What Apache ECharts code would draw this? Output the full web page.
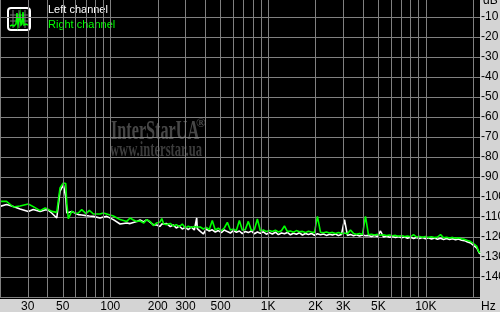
<!DOCTYPE html>
<html>
<head>
<meta charset="utf-8">
<script src="https://cdn.jsdelivr.net/npm/echarts@6/dist/echarts.min.js"></script>
<style>
html,body{margin:0;padding:0;background:#d4d4d4;}
#chart{width:500px;height:312px;}
</style>
</head>
<body>
<div id="chart"></div>
<script>
const freqs = [20,22,24.3,26.8,30.2,32.5,35.9,38.6,40,42.5,45.8,48,50.4,52.2,53,54.2,57,60.6,62.7,65.9,70.2,73.7,78.1,80.1,86.1,90.4,95,97.2,104.6,107.2,115.4,118.2,127.2,133.5,140.1,147.2,154.5,163,170.4,180,187.5,197,206.8,212,218,228,
240,251,262,274,286,289,299,312,326,341,353,356,372,389,406,424,443,463,484,506,528,552,577,603,630,658,687,718,750,784,819,856,894,934,976,1020,1065,1113,1163,1215,1270,1327,1386,1448,1513,1581,1652,1726,1803,1884,1968,2056,2149,2245,2345,2450,2560,2675,2795,2920,3051,3187,3330,3479,3635,3798,3968,4146,4331,4525,4728,4940,5161,5392,5633,5886,6149,6425,6712,7013,7327,7655,7998,8356,8730,9121,9529,9956,10400,10870,11350,11860,12390,12950,13530,14130,14770,15430,16120,16840,17600,18380,19200,19570,20060,20540,21060,21560,22000];

const leftDb = [-104.7,-103.8,-104.7,-106,-107.2,-106.3,-107.2,-106.5,-106.3,-108,-110.5,-97.2,-93.8,-100,-108,-107.8,-107.2,-108.3,-108.8,-109,-109.3,-109.5,-109.7,-110,-110.5,-110,-109.7,-110.5,-111.3,-112,-113.5,-113.8,-113,-113.3,-112.7,-112.2,-111.5,-112.5,-111.3,-112.8,-113.8,-114,-114.7,-113.5,-114.5,-113.3,
-114.8,-114,-115.5,-114.5,-116,-115.4,-115.2,-116.3,-115,-116.5,-110.5,-115.8,-117.2,-118.5,-116,-117,-116.4,-117.5,-116.8,-117.8,-116.5,-117.3,-118,-116.8,-117.6,-117,-118.3,-117.2,-117.8,-117,-118.4,-117.5,-118.2,-117.4,-118.6,-117.8,-118.5,-117.6,-118.8,-118,-118.4,-117.7,-118.9,-118.1,-118.6,-117.9,-119,-118.3,-118.7,-118.2,-119.1,-118.4,-118.9,-118.5,-119.2,-118.6,-119,-118.5,-119.3,-118.8,-111.3,-119.2,-118.7,-119.4,-118.9,-119.5,-119,-119.4,-119.2,-119.7,-119.3,-119.8,-117,-120,-119.5,-120.1,-119.7,-120.3,-119.8,-120.4,-120,-120.6,-120.1,-120.7,-120.2,-120.8,-120.3,-120.9,-120.4,-121,-120.5,-121.1,-120.6,-121.2,-120.8,-121.3,-120.9,-121.4,-121,-121.6,-121.8,-122.5,-123,-123.4,-124.2,-124.6,-125.5,-127.2,-128.5];

const rightDb = [-102.2,-102.2,-105,-104.5,-103.5,-104.8,-106.8,-105.5,-106,-107.2,-107.7,-95.5,-93,-93.3,-103,-110.8,-107.2,-108.2,-108,-106.3,-108.3,-106.7,-108.5,-108.8,-108.5,-108,-108.5,-108.8,-109.5,-108.8,-111.3,-112,-112.2,-110.5,-111.5,-112.2,-112,-113,-111.3,-112.5,-114.3,-113,-112.5,-110.8,-113.5,-113.8,
-113.2,-114.5,-113.8,-114.8,-113.5,-112.5,-115.5,-114.6,-115.2,-114.8,-115,-115.6,-115,-116,-115.2,-116.3,-111.7,-116.5,-115.6,-116.8,-115.5,-112.7,-116.5,-116,-116.8,-111.8,-116.6,-116.2,-112.2,-116.8,-116.4,-111,-117,-116.5,-117.3,-116.8,-117.2,-116.6,-117.5,-116.9,-114.5,-117.3,-117,-117.6,-116.8,-117.4,-117.2,-117.8,-117.1,-117.5,-117.8,-109.7,-117.6,-117.9,-117.5,-118,-117.7,-118.2,-117.8,-118.3,-118,-118.4,-116.5,-118.2,-118.6,-118.3,-118.8,-109.7,-118.9,-118.6,-119,-118.7,-119.1,-118.9,-119.3,-119,-119.4,-119.2,-119.6,-119.3,-119.8,-119.5,-119.9,-118.8,-120,-119.7,-120.1,-119.8,-120.2,-119.9,-120.3,-120,-118.8,-120.4,-120.1,-120.5,-120.2,-120.6,-120.4,-120.9,-121.2,-121.8,-122.3,-122.5,-123.3,-123.8,-124.7,-127,-128];

const xGridValues = [20,30,40,50,60,70,80,90,100,200,300,400,500,600,700,800,900,1000,2000,3000,4000,5000,6000,7000,8000,9000,10000,20000];
const xLabelValues = [30,50,100,200,300,500,1000,2000,3000,5000,10000];
const seriesNames = ['Left channel','Right channel'];

const FONT = "'Liberation Sans', Arial, sans-serif";
const chart = echarts.init(document.getElementById('chart'), null, {renderer:'canvas'});

const iconSpectrum = [[10,26],[12,25],[14,26],[16,24],[17,13],[18,25],[20,14],[21,25],[22,24],[23,12],[24,25],[26,24],[28,25]];

chart.setOption({
  animation: false,
  backgroundColor: '#d4d4d4',
  grid: {left: 0, top: -3, width: 480, height: 300, containLabel:false, outerBoundsMode:'none', show:false},
  graphic: [
    {type:'rect', z:-10, silent:true, shape:{x:0,y:0,width:480,height:299}, style:{fill:'#000'}},
    {type:'text', z:-5, left:111, top:119, scaleX:0.6, style:{text:'InterStarUA', font:"bold 27px 'Liberation Serif', serif", fill:'#474747'}},
    {type:'text', z:-5, left:196, top:117, style:{text:'®', font:"bold 13px 'Liberation Serif', serif", fill:'#474747'}},
    {type:'text', z:-5, left:110, top:140, scaleX:0.6, style:{text:'www.interstar.ua', font:"bold 21px 'Liberation Serif', serif", fill:'#3d3d3d'}},
    {type:'group', z:10, children:[
      {type:'rect', shape:{x:8,y:8,width:22,height:22,r:3}, style:{fill:'#000', stroke:'#fff', lineWidth:2}},
      {type:'polyline', shape:{points:[[13,10],[13,28]]}, style:{stroke:'#777', lineWidth:1}},
      {type:'polyline', shape:{points:[[19,10],[19,28]]}, style:{stroke:'#777', lineWidth:1}},
      {type:'polyline', shape:{points:[[25,10],[25,28]]}, style:{stroke:'#777', lineWidth:1}},
      {type:'polyline', shape:{points:[[10,15],[28,15]]}, style:{stroke:'#777', lineWidth:1}},
      {type:'polyline', shape:{points:[[10,21],[28,21]]}, style:{stroke:'#777', lineWidth:1}},
      {type:'polyline', shape:{points:iconSpectrum}, style:{stroke:'#00ff00', lineWidth:1.5, fill:null}}
    ]}
  ],
  legend: {
    orient:'vertical', left:38, top:-1, itemWidth:0, itemHeight:0, itemGap:4, icon:'rect', selectedMode:false,
    textStyle:{fontSize:11, fontFamily:FONT},
    data:[{name:seriesNames[0], textStyle:{color:'#ffffff'}},{name:seriesNames[1], textStyle:{color:'#00ff00'}}]
  },
  xAxis: {
    type:'log', min:20, max:22050, logBase:10, position:'bottom',
    axisLine:{show:false, onZero:false}, axisTick:{show:false}, splitLine:{show:false},
    axisLabel:{customValues:xLabelValues, margin:4, color:'#000', fontSize:12, fontFamily:FONT,
      formatter:(v)=> v>=1000 ? (v/1000)+'K' : String(v)},
    name:'Hz', nameLocation:'end', nameGap:1,
    nameTextStyle:{color:'#000', fontSize:12, fontFamily:FONT, align:'left', verticalAlign:'top', padding:[4,0,0,0]}
  },
  yAxis: {
    type:'value', min:-150, max:0, interval:10, position:'right',
    axisLine:{show:false, onZero:false}, axisTick:{show:false},
    splitLine:{show:true, lineStyle:{color:'#808080', width:1}},
    name:'dB', nameLocation:'end', nameGap:-4,
    nameTextStyle:{color:'#000', fontSize:12, fontFamily:FONT, align:'left', verticalAlign:'middle', padding:[0,0,0,3]},
    axisLabel:{margin:1, color:'#000', fontSize:12, fontFamily:FONT, showMinLabel:true, showMaxLabel:true,
      formatter:(v)=> (Math.round(v)===0 || Math.round(v)===-150) ? '' : String(Math.round(v))}
  },
  series: [
    {
      name:'grid', type:'line', data:[], z:1, silent:true,
      markLine:{silent:true, symbol:['none','none'], label:{show:false},
        lineStyle:{color:'#808080', width:1, type:'solid'},
        data: xGridValues.map(v=>({xAxis:v}))}
    },
    {
      name:seriesNames[0], type:'line', z:3, showSymbol:false, symbol:'none',
      lineStyle:{color:'#ffffff', width:1.6}, itemStyle:{color:'#ffffff'},
      data: freqs.map((f,i)=>[f,leftDb[i]])
    },
    {
      name:seriesNames[1], type:'line', z:4, showSymbol:false, symbol:'none',
      lineStyle:{color:'#00ff00', width:1.6}, itemStyle:{color:'#00ff00'},
      data: freqs.map((f,i)=>[f,rightDb[i]])
    }
  ]
});
</script>
</body>
</html>
